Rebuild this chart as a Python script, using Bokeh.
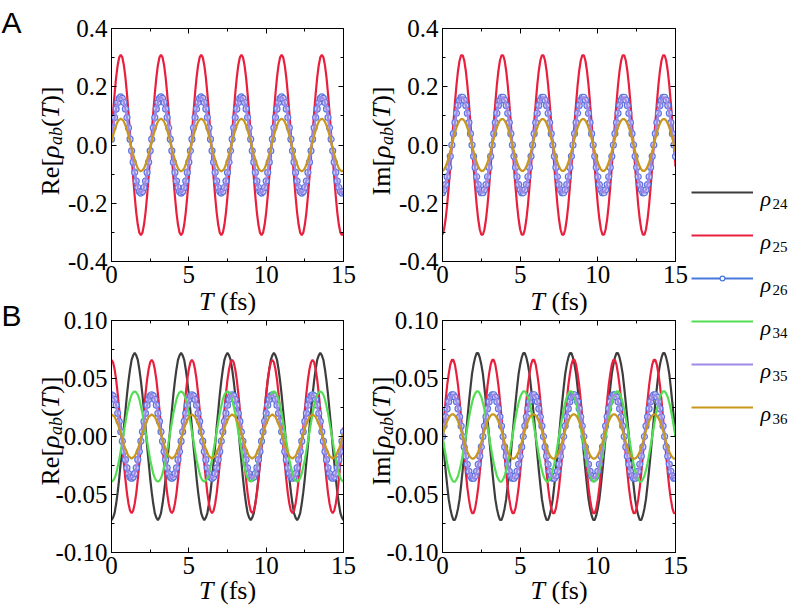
from bokeh.plotting import figure
from bokeh.models import Range1d, LinearAxis, FixedTicker, Label, Legend, LegendItem, ColumnDataSource, GridBox
from bokeh.layouts import row, column
from bokeh.embed import file_html
from bokeh.resources import INLINE
import math

# time grid (fs)
t_fs = [i / 10 for i in range(151)]

# ---------------- panel A ----------------
re_a_25 = [0.037, 0.110, 0.176, 0.232, 0.274, 0.301,
    0.310, 0.301, 0.274, 0.232, 0.176, 0.110, 0.037, -0.037, -0.110, -0.176, -0.232, -0.274, -0.301, -0.310, -0.301, -0.274, -0.232, -0.176, -0.110, -0.037, 0.037, 0.110, 0.176, 0.232, 0.274, 0.301,
    0.310, 0.301, 0.274, 0.232, 0.176, 0.110, 0.037, -0.037, -0.110, -0.176, -0.232, -0.274, -0.301, -0.310, -0.301, -0.274, -0.232, -0.176, -0.110, -0.037, 0.037, 0.110, 0.176, 0.232, 0.274, 0.301,
    0.310, 0.301, 0.274, 0.232, 0.176, 0.110, 0.037, -0.037, -0.110, -0.176, -0.232, -0.274, -0.301, -0.310, -0.301, -0.274, -0.232, -0.176, -0.110, -0.037, 0.037, 0.110, 0.176, 0.232, 0.274, 0.301,
    0.310, 0.301, 0.274, 0.232, 0.176, 0.110, 0.037, -0.037, -0.110, -0.176, -0.232, -0.274, -0.301, -0.310, -0.301, -0.274, -0.232, -0.176, -0.110, -0.037, 0.037, 0.110, 0.176, 0.232, 0.274, 0.301,
    0.310, 0.301, 0.274, 0.232, 0.176, 0.110, 0.037, -0.037, -0.110, -0.176, -0.232, -0.274, -0.301, -0.310, -0.301, -0.274, -0.232, -0.176, -0.110, -0.037, 0.037, 0.110, 0.176, 0.232, 0.274, 0.301,
    0.310, 0.301, 0.274, 0.232, 0.176, 0.110, 0.037, -0.037, -0.110, -0.176, -0.232, -0.274, -0.301, -0.310, -0.301]
im_a_25 = [-0.308, -0.290, -0.255, -0.206, -0.144, -0.074,
    0.000, 0.074, 0.144, 0.206, 0.255, 0.290, 0.308, 0.308, 0.290, 0.255, 0.206, 0.144, 0.074, 0.000, -0.074, -0.144, -0.206, -0.255, -0.290, -0.308, -0.308, -0.290, -0.255, -0.206, -0.144, -0.074,
    0.000, 0.074, 0.144, 0.206, 0.255, 0.290, 0.308, 0.308, 0.290, 0.255, 0.206, 0.144, 0.074, 0.000, -0.074, -0.144, -0.206, -0.255, -0.290, -0.308, -0.308, -0.290, -0.255, -0.206, -0.144, -0.074,
    0.000, 0.074, 0.144, 0.206, 0.255, 0.290, 0.308, 0.308, 0.290, 0.255, 0.206, 0.144, 0.074, 0.000, -0.074, -0.144, -0.206, -0.255, -0.290, -0.308, -0.308, -0.290, -0.255, -0.206, -0.144, -0.074,
    0.000, 0.074, 0.144, 0.206, 0.255, 0.290, 0.308, 0.308, 0.290, 0.255, 0.206, 0.144, 0.074, 0.000, -0.074, -0.144, -0.206, -0.255, -0.290, -0.308, -0.308, -0.290, -0.255, -0.206, -0.144, -0.074,
    0.000, 0.074, 0.144, 0.206, 0.255, 0.290, 0.308, 0.308, 0.290, 0.255, 0.206, 0.144, 0.074, 0.000, -0.074, -0.144, -0.206, -0.255, -0.290, -0.308, -0.308, -0.290, -0.255, -0.206, -0.144, -0.074,
    0.000, 0.074, 0.144, 0.206, 0.255, 0.290, 0.308, 0.308, 0.290, 0.255, 0.206, 0.144, 0.074, 0.000, -0.074]
re_a_26 = [0.020, 0.059, 0.094, 0.124, 0.146, 0.160,
    0.165, 0.160, 0.146, 0.124, 0.094, 0.059, 0.020, -0.020, -0.059, -0.094, -0.124, -0.146, -0.160, -0.165, -0.160, -0.146, -0.124, -0.094, -0.059, -0.020, 0.020, 0.059, 0.094, 0.124, 0.146, 0.160,
    0.165, 0.160, 0.146, 0.124, 0.094, 0.059, 0.020, -0.020, -0.059, -0.094, -0.124, -0.146, -0.160, -0.165, -0.160, -0.146, -0.124, -0.094, -0.059, -0.020, 0.020, 0.059, 0.094, 0.124, 0.146, 0.160,
    0.165, 0.160, 0.146, 0.124, 0.094, 0.059, 0.020, -0.020, -0.059, -0.094, -0.124, -0.146, -0.160, -0.165, -0.160, -0.146, -0.124, -0.094, -0.059, -0.020, 0.020, 0.059, 0.094, 0.124, 0.146, 0.160,
    0.165, 0.160, 0.146, 0.124, 0.094, 0.059, 0.020, -0.020, -0.059, -0.094, -0.124, -0.146, -0.160, -0.165, -0.160, -0.146, -0.124, -0.094, -0.059, -0.020, 0.020, 0.059, 0.094, 0.124, 0.146, 0.160,
    0.165, 0.160, 0.146, 0.124, 0.094, 0.059, 0.020, -0.020, -0.059, -0.094, -0.124, -0.146, -0.160, -0.165, -0.160, -0.146, -0.124, -0.094, -0.059, -0.020, 0.020, 0.059, 0.094, 0.124, 0.146, 0.160,
    0.165, 0.160, 0.146, 0.124, 0.094, 0.059, 0.020, -0.020, -0.059, -0.094, -0.124, -0.146, -0.160, -0.165, -0.160]
im_a_26 = [-0.164, -0.154, -0.136, -0.109, -0.077, -0.039,
    0.000, 0.039, 0.077, 0.109, 0.136, 0.154, 0.164, 0.164, 0.154, 0.136, 0.109, 0.077, 0.039, 0.000, -0.039, -0.077, -0.109, -0.136, -0.154, -0.164, -0.164, -0.154, -0.136, -0.109, -0.077, -0.039,
    0.000, 0.039, 0.077, 0.109, 0.136, 0.154, 0.164, 0.164, 0.154, 0.136, 0.109, 0.077, 0.039, 0.000, -0.039, -0.077, -0.109, -0.136, -0.154, -0.164, -0.164, -0.154, -0.136, -0.109, -0.077, -0.039,
    0.000, 0.039, 0.077, 0.109, 0.136, 0.154, 0.164, 0.164, 0.154, 0.136, 0.109, 0.077, 0.039, 0.000, -0.039, -0.077, -0.109, -0.136, -0.154, -0.164, -0.164, -0.154, -0.136, -0.109, -0.077, -0.039,
    0.000, 0.039, 0.077, 0.109, 0.136, 0.154, 0.164, 0.164, 0.154, 0.136, 0.109, 0.077, 0.039, 0.000, -0.039, -0.077, -0.109, -0.136, -0.154, -0.164, -0.164, -0.154, -0.136, -0.109, -0.077, -0.039,
    0.000, 0.039, 0.077, 0.109, 0.136, 0.154, 0.164, 0.164, 0.154, 0.136, 0.109, 0.077, 0.039, 0.000, -0.039, -0.077, -0.109, -0.136, -0.154, -0.164, -0.164, -0.154, -0.136, -0.109, -0.077, -0.039,
    0.000, 0.039, 0.077, 0.109, 0.136, 0.154, 0.164, 0.164, 0.154, 0.136, 0.109, 0.077, 0.039, 0.000, -0.039]
re_a_36 = [0.011, 0.032, 0.051, 0.067, 0.080, 0.087,
    0.090, 0.087, 0.080, 0.067, 0.051, 0.032, 0.011, -0.011, -0.032, -0.051, -0.067, -0.080, -0.087, -0.090, -0.087, -0.080, -0.067, -0.051, -0.032, -0.011, 0.011, 0.032, 0.051, 0.067, 0.080, 0.087,
    0.090, 0.087, 0.080, 0.067, 0.051, 0.032, 0.011, -0.011, -0.032, -0.051, -0.067, -0.080, -0.087, -0.090, -0.087, -0.080, -0.067, -0.051, -0.032, -0.011, 0.011, 0.032, 0.051, 0.067, 0.080, 0.087,
    0.090, 0.087, 0.080, 0.067, 0.051, 0.032, 0.011, -0.011, -0.032, -0.051, -0.067, -0.080, -0.087, -0.090, -0.087, -0.080, -0.067, -0.051, -0.032, -0.011, 0.011, 0.032, 0.051, 0.067, 0.080, 0.087,
    0.090, 0.087, 0.080, 0.067, 0.051, 0.032, 0.011, -0.011, -0.032, -0.051, -0.067, -0.080, -0.087, -0.090, -0.087, -0.080, -0.067, -0.051, -0.032, -0.011, 0.011, 0.032, 0.051, 0.067, 0.080, 0.087,
    0.090, 0.087, 0.080, 0.067, 0.051, 0.032, 0.011, -0.011, -0.032, -0.051, -0.067, -0.080, -0.087, -0.090, -0.087, -0.080, -0.067, -0.051, -0.032, -0.011, 0.011, 0.032, 0.051, 0.067, 0.080, 0.087,
    0.090, 0.087, 0.080, 0.067, 0.051, 0.032, 0.011, -0.011, -0.032, -0.051, -0.067, -0.080, -0.087, -0.090, -0.087]
im_a_36 = [-0.089, -0.084, -0.074, -0.060, -0.042, -0.022,
    0.000, 0.022, 0.042, 0.060, 0.074, 0.084, 0.089, 0.089, 0.084, 0.074, 0.060, 0.042, 0.022, 0.000, -0.022, -0.042, -0.060, -0.074, -0.084, -0.089, -0.089, -0.084, -0.074, -0.060, -0.042, -0.022,
    0.000, 0.022, 0.042, 0.060, 0.074, 0.084, 0.089, 0.089, 0.084, 0.074, 0.060, 0.042, 0.022, 0.000, -0.022, -0.042, -0.060, -0.074, -0.084, -0.089, -0.089, -0.084, -0.074, -0.060, -0.042, -0.022,
    0.000, 0.022, 0.042, 0.060, 0.074, 0.084, 0.089, 0.089, 0.084, 0.074, 0.060, 0.042, 0.022, 0.000, -0.022, -0.042, -0.060, -0.074, -0.084, -0.089, -0.089, -0.084, -0.074, -0.060, -0.042, -0.022,
    0.000, 0.022, 0.042, 0.060, 0.074, 0.084, 0.089, 0.089, 0.084, 0.074, 0.060, 0.042, 0.022, 0.000, -0.022, -0.042, -0.060, -0.074, -0.084, -0.089, -0.089, -0.084, -0.074, -0.060, -0.042, -0.022,
    0.000, 0.022, 0.042, 0.060, 0.074, 0.084, 0.089, 0.089, 0.084, 0.074, 0.060, 0.042, 0.022, 0.000, -0.022, -0.042, -0.060, -0.074, -0.084, -0.089, -0.089, -0.084, -0.074, -0.060, -0.042, -0.022,
    0.000, 0.022, 0.042, 0.060, 0.074, 0.084, 0.089, 0.089, 0.084, 0.074, 0.060, 0.042, 0.022, 0.000, -0.022]
# rho35 coincides with rho26 in the picture
re_a_35 = list(re_a_26)
im_a_35 = list(im_a_26)

# ---------------- panel B ----------------
re_b_24 = [
    -0.072, -0.070, -0.066, -0.058, -0.048, -0.036, -0.022, -0.008, 0.008, 0.022, 0.036, 0.048, 0.058, 0.066, 0.070, 0.072, 0.070, 0.066, 0.058, 0.048, 0.036, 0.022, 0.008, -0.008, -0.022, -0.036, -0.048, -0.058, -0.066, -0.070,
    -0.072, -0.070, -0.066, -0.058, -0.048, -0.036, -0.022, -0.008, 0.008, 0.022, 0.036, 0.048, 0.058, 0.066, 0.070, 0.072, 0.070, 0.066, 0.058, 0.048, 0.036, 0.022, 0.008, -0.008, -0.022, -0.036, -0.048, -0.058, -0.066, -0.070,
    -0.072, -0.070, -0.066, -0.058, -0.048, -0.036, -0.022, -0.008, 0.008, 0.022, 0.036, 0.048, 0.058, 0.066, 0.070, 0.072, 0.070, 0.066, 0.058, 0.048, 0.036, 0.022, 0.008, -0.008, -0.022, -0.036, -0.048, -0.058, -0.066, -0.070,
    -0.072, -0.070, -0.066, -0.058, -0.048, -0.036, -0.022, -0.008, 0.008, 0.022, 0.036, 0.048, 0.058, 0.066, 0.070, 0.072, 0.070, 0.066, 0.058, 0.048, 0.036, 0.022, 0.008, -0.008, -0.022, -0.036, -0.048, -0.058, -0.066, -0.070,
    -0.072, -0.070, -0.066, -0.058, -0.048, -0.036, -0.022, -0.008, 0.008, 0.022, 0.036, 0.048, 0.058, 0.066, 0.070, 0.072, 0.070, 0.066, 0.058, 0.048, 0.036, 0.022, 0.008, -0.008, -0.022, -0.036, -0.048, -0.058, -0.066, -0.070,
    -0.072]
im_b_24 = [
    0.000, -0.015, -0.029, -0.042, -0.054, -0.062, -0.068, -0.072, -0.072, -0.068, -0.062, -0.054, -0.042, -0.029, -0.015, 0.000, 0.015, 0.029, 0.042, 0.054, 0.062, 0.068, 0.072, 0.072, 0.068, 0.062, 0.054, 0.042, 0.029, 0.015,
    0.000, -0.015, -0.029, -0.042, -0.054, -0.062, -0.068, -0.072, -0.072, -0.068, -0.062, -0.054, -0.042, -0.029, -0.015, 0.000, 0.015, 0.029, 0.042, 0.054, 0.062, 0.068, 0.072, 0.072, 0.068, 0.062, 0.054, 0.042, 0.029, 0.015,
    0.000, -0.015, -0.029, -0.042, -0.054, -0.062, -0.068, -0.072, -0.072, -0.068, -0.062, -0.054, -0.042, -0.029, -0.015, 0.000, 0.015, 0.029, 0.042, 0.054, 0.062, 0.068, 0.072, 0.072, 0.068, 0.062, 0.054, 0.042, 0.029, 0.015,
    0.000, -0.015, -0.029, -0.042, -0.054, -0.062, -0.068, -0.072, -0.072, -0.068, -0.062, -0.054, -0.042, -0.029, -0.015, 0.000, 0.015, 0.029, 0.042, 0.054, 0.062, 0.068, 0.072, 0.072, 0.068, 0.062, 0.054, 0.042, 0.029, 0.015,
    0.000, -0.015, -0.029, -0.042, -0.054, -0.062, -0.068, -0.072, -0.072, -0.068, -0.062, -0.054, -0.042, -0.029, -0.015, 0.000, 0.015, 0.029, 0.042, 0.054, 0.062, 0.068, 0.072, 0.072, 0.068, 0.062, 0.054, 0.042, 0.029, 0.015,
    0.000]
re_b_25 = [
    0.066, 0.064, 0.058, 0.049, 0.037, 0.023, 0.008, -0.008, -0.023, -0.037, -0.049, -0.058, -0.064, -0.066, -0.064, -0.058, -0.049, -0.037, -0.023, -0.008, 0.008, 0.023, 0.037, 0.049, 0.058, 0.064,
    0.066, 0.064, 0.058, 0.049, 0.037, 0.023, 0.008, -0.008, -0.023, -0.037, -0.049, -0.058, -0.064, -0.066, -0.064, -0.058, -0.049, -0.037, -0.023, -0.008, 0.008, 0.023, 0.037, 0.049, 0.058, 0.064,
    0.066, 0.064, 0.058, 0.049, 0.037, 0.023, 0.008, -0.008, -0.023, -0.037, -0.049, -0.058, -0.064, -0.066, -0.064, -0.058, -0.049, -0.037, -0.023, -0.008, 0.008, 0.023, 0.037, 0.049, 0.058, 0.064,
    0.066, 0.064, 0.058, 0.049, 0.037, 0.023, 0.008, -0.008, -0.023, -0.037, -0.049, -0.058, -0.064, -0.066, -0.064, -0.058, -0.049, -0.037, -0.023, -0.008, 0.008, 0.023, 0.037, 0.049, 0.058, 0.064,
    0.066, 0.064, 0.058, 0.049, 0.037, 0.023, 0.008, -0.008, -0.023, -0.037, -0.049, -0.058, -0.064, -0.066, -0.064, -0.058, -0.049, -0.037, -0.023, -0.008, 0.008, 0.023, 0.037, 0.049, 0.058, 0.064,
    0.066, 0.064, 0.058, 0.049, 0.037, 0.023, 0.008, -0.008, -0.023, -0.037, -0.049, -0.058, -0.064, -0.066, -0.064, -0.058, -0.049, -0.037, -0.023, -0.008, 0.008]
im_b_25 = [
    0.000, 0.016, 0.031, 0.044, 0.054, 0.062, 0.066, 0.066, 0.062, 0.054, 0.044, 0.031, 0.016, 0.000, -0.016, -0.031, -0.044, -0.054, -0.062, -0.066, -0.066, -0.062, -0.054, -0.044, -0.031, -0.016,
    0.000, 0.016, 0.031, 0.044, 0.054, 0.062, 0.066, 0.066, 0.062, 0.054, 0.044, 0.031, 0.016, 0.000, -0.016, -0.031, -0.044, -0.054, -0.062, -0.066, -0.066, -0.062, -0.054, -0.044, -0.031, -0.016,
    0.000, 0.016, 0.031, 0.044, 0.054, 0.062, 0.066, 0.066, 0.062, 0.054, 0.044, 0.031, 0.016, 0.000, -0.016, -0.031, -0.044, -0.054, -0.062, -0.066, -0.066, -0.062, -0.054, -0.044, -0.031, -0.016,
    0.000, 0.016, 0.031, 0.044, 0.054, 0.062, 0.066, 0.066, 0.062, 0.054, 0.044, 0.031, 0.016, 0.000, -0.016, -0.031, -0.044, -0.054, -0.062, -0.066, -0.066, -0.062, -0.054, -0.044, -0.031, -0.016,
    0.000, 0.016, 0.031, 0.044, 0.054, 0.062, 0.066, 0.066, 0.062, 0.054, 0.044, 0.031, 0.016, 0.000, -0.016, -0.031, -0.044, -0.054, -0.062, -0.066, -0.066, -0.062, -0.054, -0.044, -0.031, -0.016,
    0.000, 0.016, 0.031, 0.044, 0.054, 0.062, 0.066, 0.066, 0.062, 0.054, 0.044, 0.031, 0.016, 0.000, -0.016, -0.031, -0.044, -0.054, -0.062, -0.066, -0.066]
re_b_26 = [
    0.036, 0.035, 0.032, 0.027, 0.020, 0.013, 0.004, -0.004, -0.013, -0.020, -0.027, -0.032, -0.035, -0.036, -0.035, -0.032, -0.027, -0.020, -0.013, -0.004, 0.004, 0.013, 0.020, 0.027, 0.032, 0.035,
    0.036, 0.035, 0.032, 0.027, 0.020, 0.013, 0.004, -0.004, -0.013, -0.020, -0.027, -0.032, -0.035, -0.036, -0.035, -0.032, -0.027, -0.020, -0.013, -0.004, 0.004, 0.013, 0.020, 0.027, 0.032, 0.035,
    0.036, 0.035, 0.032, 0.027, 0.020, 0.013, 0.004, -0.004, -0.013, -0.020, -0.027, -0.032, -0.035, -0.036, -0.035, -0.032, -0.027, -0.020, -0.013, -0.004, 0.004, 0.013, 0.020, 0.027, 0.032, 0.035,
    0.036, 0.035, 0.032, 0.027, 0.020, 0.013, 0.004, -0.004, -0.013, -0.020, -0.027, -0.032, -0.035, -0.036, -0.035, -0.032, -0.027, -0.020, -0.013, -0.004, 0.004, 0.013, 0.020, 0.027, 0.032, 0.035,
    0.036, 0.035, 0.032, 0.027, 0.020, 0.013, 0.004, -0.004, -0.013, -0.020, -0.027, -0.032, -0.035, -0.036, -0.035, -0.032, -0.027, -0.020, -0.013, -0.004, 0.004, 0.013, 0.020, 0.027, 0.032, 0.035,
    0.036, 0.035, 0.032, 0.027, 0.020, 0.013, 0.004, -0.004, -0.013, -0.020, -0.027, -0.032, -0.035, -0.036, -0.035, -0.032, -0.027, -0.020, -0.013, -0.004, 0.004]
im_b_26 = [
    0.000, 0.009, 0.017, 0.024, 0.030, 0.034, 0.036, 0.036, 0.034, 0.030, 0.024, 0.017, 0.009, 0.000, -0.009, -0.017, -0.024, -0.030, -0.034, -0.036, -0.036, -0.034, -0.030, -0.024, -0.017, -0.009,
    0.000, 0.009, 0.017, 0.024, 0.030, 0.034, 0.036, 0.036, 0.034, 0.030, 0.024, 0.017, 0.009, 0.000, -0.009, -0.017, -0.024, -0.030, -0.034, -0.036, -0.036, -0.034, -0.030, -0.024, -0.017, -0.009,
    0.000, 0.009, 0.017, 0.024, 0.030, 0.034, 0.036, 0.036, 0.034, 0.030, 0.024, 0.017, 0.009, 0.000, -0.009, -0.017, -0.024, -0.030, -0.034, -0.036, -0.036, -0.034, -0.030, -0.024, -0.017, -0.009,
    0.000, 0.009, 0.017, 0.024, 0.030, 0.034, 0.036, 0.036, 0.034, 0.030, 0.024, 0.017, 0.009, 0.000, -0.009, -0.017, -0.024, -0.030, -0.034, -0.036, -0.036, -0.034, -0.030, -0.024, -0.017, -0.009,
    0.000, 0.009, 0.017, 0.024, 0.030, 0.034, 0.036, 0.036, 0.034, 0.030, 0.024, 0.017, 0.009, 0.000, -0.009, -0.017, -0.024, -0.030, -0.034, -0.036, -0.036, -0.034, -0.030, -0.024, -0.017, -0.009,
    0.000, 0.009, 0.017, 0.024, 0.030, 0.034, 0.036, 0.036, 0.034, 0.030, 0.024, 0.017, 0.009, 0.000, -0.009, -0.017, -0.024, -0.030, -0.034, -0.036, -0.036]
re_b_34 = [
    -0.039, -0.038, -0.036, -0.032, -0.026, -0.020, -0.012, -0.004, 0.004, 0.012, 0.020, 0.026, 0.032, 0.036, 0.038, 0.039, 0.038, 0.036, 0.032, 0.026, 0.020, 0.012, 0.004, -0.004, -0.012, -0.020, -0.026, -0.032, -0.036, -0.038,
    -0.039, -0.038, -0.036, -0.032, -0.026, -0.020, -0.012, -0.004, 0.004, 0.012, 0.020, 0.026, 0.032, 0.036, 0.038, 0.039, 0.038, 0.036, 0.032, 0.026, 0.020, 0.012, 0.004, -0.004, -0.012, -0.020, -0.026, -0.032, -0.036, -0.038,
    -0.039, -0.038, -0.036, -0.032, -0.026, -0.020, -0.012, -0.004, 0.004, 0.012, 0.020, 0.026, 0.032, 0.036, 0.038, 0.039, 0.038, 0.036, 0.032, 0.026, 0.020, 0.012, 0.004, -0.004, -0.012, -0.020, -0.026, -0.032, -0.036, -0.038,
    -0.039, -0.038, -0.036, -0.032, -0.026, -0.020, -0.012, -0.004, 0.004, 0.012, 0.020, 0.026, 0.032, 0.036, 0.038, 0.039, 0.038, 0.036, 0.032, 0.026, 0.020, 0.012, 0.004, -0.004, -0.012, -0.020, -0.026, -0.032, -0.036, -0.038,
    -0.039, -0.038, -0.036, -0.032, -0.026, -0.020, -0.012, -0.004, 0.004, 0.012, 0.020, 0.026, 0.032, 0.036, 0.038, 0.039, 0.038, 0.036, 0.032, 0.026, 0.020, 0.012, 0.004, -0.004, -0.012, -0.020, -0.026, -0.032, -0.036, -0.038,
    -0.039]
im_b_34 = [
    0.000, -0.008, -0.016, -0.023, -0.029, -0.034, -0.037, -0.039, -0.039, -0.037, -0.034, -0.029, -0.023, -0.016, -0.008, 0.000, 0.008, 0.016, 0.023, 0.029, 0.034, 0.037, 0.039, 0.039, 0.037, 0.034, 0.029, 0.023, 0.016, 0.008,
    0.000, -0.008, -0.016, -0.023, -0.029, -0.034, -0.037, -0.039, -0.039, -0.037, -0.034, -0.029, -0.023, -0.016, -0.008, 0.000, 0.008, 0.016, 0.023, 0.029, 0.034, 0.037, 0.039, 0.039, 0.037, 0.034, 0.029, 0.023, 0.016, 0.008,
    0.000, -0.008, -0.016, -0.023, -0.029, -0.034, -0.037, -0.039, -0.039, -0.037, -0.034, -0.029, -0.023, -0.016, -0.008, 0.000, 0.008, 0.016, 0.023, 0.029, 0.034, 0.037, 0.039, 0.039, 0.037, 0.034, 0.029, 0.023, 0.016, 0.008,
    0.000, -0.008, -0.016, -0.023, -0.029, -0.034, -0.037, -0.039, -0.039, -0.037, -0.034, -0.029, -0.023, -0.016, -0.008, 0.000, 0.008, 0.016, 0.023, 0.029, 0.034, 0.037, 0.039, 0.039, 0.037, 0.034, 0.029, 0.023, 0.016, 0.008,
    0.000, -0.008, -0.016, -0.023, -0.029, -0.034, -0.037, -0.039, -0.039, -0.037, -0.034, -0.029, -0.023, -0.016, -0.008, 0.000, 0.008, 0.016, 0.023, 0.029, 0.034, 0.037, 0.039, 0.039, 0.037, 0.034, 0.029, 0.023, 0.016, 0.008,
    0.000]
re_b_36 = [
    0.019, 0.018, 0.017, 0.014, 0.011, 0.007, 0.002, -0.002, -0.007, -0.011, -0.014, -0.017, -0.018, -0.019, -0.018, -0.017, -0.014, -0.011, -0.007, -0.002, 0.002, 0.007, 0.011, 0.014, 0.017, 0.018,
    0.019, 0.018, 0.017, 0.014, 0.011, 0.007, 0.002, -0.002, -0.007, -0.011, -0.014, -0.017, -0.018, -0.019, -0.018, -0.017, -0.014, -0.011, -0.007, -0.002, 0.002, 0.007, 0.011, 0.014, 0.017, 0.018,
    0.019, 0.018, 0.017, 0.014, 0.011, 0.007, 0.002, -0.002, -0.007, -0.011, -0.014, -0.017, -0.018, -0.019, -0.018, -0.017, -0.014, -0.011, -0.007, -0.002, 0.002, 0.007, 0.011, 0.014, 0.017, 0.018,
    0.019, 0.018, 0.017, 0.014, 0.011, 0.007, 0.002, -0.002, -0.007, -0.011, -0.014, -0.017, -0.018, -0.019, -0.018, -0.017, -0.014, -0.011, -0.007, -0.002, 0.002, 0.007, 0.011, 0.014, 0.017, 0.018,
    0.019, 0.018, 0.017, 0.014, 0.011, 0.007, 0.002, -0.002, -0.007, -0.011, -0.014, -0.017, -0.018, -0.019, -0.018, -0.017, -0.014, -0.011, -0.007, -0.002, 0.002, 0.007, 0.011, 0.014, 0.017, 0.018,
    0.019, 0.018, 0.017, 0.014, 0.011, 0.007, 0.002, -0.002, -0.007, -0.011, -0.014, -0.017, -0.018, -0.019, -0.018, -0.017, -0.014, -0.011, -0.007, -0.002, 0.002]
im_b_36 = [
    0.000, 0.005, 0.009, 0.013, 0.016, 0.018, 0.019, 0.019, 0.018, 0.016, 0.013, 0.009, 0.005, 0.000, -0.005, -0.009, -0.013, -0.016, -0.018, -0.019, -0.019, -0.018, -0.016, -0.013, -0.009, -0.005,
    0.000, 0.005, 0.009, 0.013, 0.016, 0.018, 0.019, 0.019, 0.018, 0.016, 0.013, 0.009, 0.005, 0.000, -0.005, -0.009, -0.013, -0.016, -0.018, -0.019, -0.019, -0.018, -0.016, -0.013, -0.009, -0.005,
    0.000, 0.005, 0.009, 0.013, 0.016, 0.018, 0.019, 0.019, 0.018, 0.016, 0.013, 0.009, 0.005, 0.000, -0.005, -0.009, -0.013, -0.016, -0.018, -0.019, -0.019, -0.018, -0.016, -0.013, -0.009, -0.005,
    0.000, 0.005, 0.009, 0.013, 0.016, 0.018, 0.019, 0.019, 0.018, 0.016, 0.013, 0.009, 0.005, 0.000, -0.005, -0.009, -0.013, -0.016, -0.018, -0.019, -0.019, -0.018, -0.016, -0.013, -0.009, -0.005,
    0.000, 0.005, 0.009, 0.013, 0.016, 0.018, 0.019, 0.019, 0.018, 0.016, 0.013, 0.009, 0.005, 0.000, -0.005, -0.009, -0.013, -0.016, -0.018, -0.019, -0.019, -0.018, -0.016, -0.013, -0.009, -0.005,
    0.000, 0.005, 0.009, 0.013, 0.016, 0.018, 0.019, 0.019, 0.018, 0.016, 0.013, 0.009, 0.005, 0.000, -0.005, -0.009, -0.013, -0.016, -0.018, -0.019, -0.019]
re_b_35 = list(re_b_26)
im_b_35 = list(im_b_26)

# ---------------- ticks / labels / legend ----------------
x_ticks = [0, 5, 10, 15]
x_tick_labels = ["0", "5", "10", "15"]
y_ticks_a = [-0.4, -0.2, 0.0, 0.2, 0.4]
y_tick_labels_a = ["-0.4", "-0.2", "0.0", "0.2", "0.4"]
y_ticks_b = [-0.10, -0.05, 0.0, 0.05, 0.10]
y_tick_labels_b = ["-0.10", "-0.05", "0.00", "0.05", "0.10"]
series_keys = ["24", "25", "26", "34", "35", "36"]   # legend: rho with these subscripts
colors = {"24": "#3d3d3d", "25": "#e8203e", "26": "#4a78dc",
          "34": "#52de52", "35": "#a189e8", "36": "#c9971c"}
marker_line = "#5b76e2"
marker_fill = "#d9d6f7"

SERIF = "Liberation Serif"
SANS = "Liberation Sans"
W, H = 793, 608


def minor_of(ticks):
    return [(a + b) / 2 for a, b in zip(ticks[:-1], ticks[1:])]


def style_axis(ax, ticks, labels, show):
    ax.ticker = FixedTicker(ticks=ticks, minor_ticks=minor_of(ticks))
    ax.major_tick_in = 5
    ax.major_tick_out = 0
    ax.minor_tick_in = 3
    ax.minor_tick_out = 0
    ax.axis_line_color = "black"
    ax.major_tick_line_color = "black"
    ax.minor_tick_line_color = "black"
    ax.axis_line_width = 1
    if show:
        ax.major_label_overrides = {t: l for t, l in zip(ticks, labels)}
        ax.major_label_text_font = SERIF
        ax.major_label_text_font_size = "25px"
        ax.major_label_text_color = "black"
        ax.major_label_standoff = 4
    else:
        ax.major_label_text_font_size = "0px"
        ax.major_label_text_alpha = 0
        ax.major_label_standoff = 0


def make_panel(width, height, mbl, mbr, mbt, mbb, ylim, yticks, ylabels, series):
    p = figure(width=width, height=height, output_backend="svg", toolbar_location=None,
               x_range=Range1d(x_ticks[0], x_ticks[-1]), y_range=Range1d(ylim[0], ylim[1]),
               min_border_left=mbl, min_border_right=mbr, min_border_top=mbt,
               min_border_bottom=mbb)
    p.grid.visible = False
    p.outline_line_color = "black"
    p.outline_line_width = 1
    p.background_fill_color = "white"
    p.border_fill_color = "white"
    style_axis(p.xaxis[0], x_ticks, x_tick_labels, True)
    style_axis(p.yaxis[0], yticks, ylabels, True)
    top = LinearAxis()
    style_axis(top, x_ticks, x_tick_labels, False)
    p.add_layout(top, "above")
    right = LinearAxis()
    style_axis(right, yticks, ylabels, False)
    p.add_layout(right, "right")
    for key, vals in series:
        src = ColumnDataSource(dict(t=t_fs[:len(vals)], v=vals[:len(t_fs)]))
        p.line("t", "v", source=src, line_color=colors[key], line_width=2.2)
        if key == "26":
            p.scatter("t", "v", source=src, size=6, line_color=marker_line,
                      fill_color=marker_fill, line_width=1.2)
    return p


ser_a_re = [("25", re_a_25), ("26", re_a_26), ("35", re_a_35), ("36", re_a_36)]
ser_a_im = [("25", im_a_25), ("26", im_a_26), ("35", im_a_35), ("36", im_a_36)]
ser_b_re = [("24", re_b_24), ("25", re_b_25), ("26", re_b_26), ("34", re_b_34), ("35", re_b_35), ("36", re_b_36)]
ser_b_im = [("24", im_b_24), ("25", im_b_25), ("26", im_b_26), ("34", im_b_34), ("35", im_b_35), ("36", im_b_36)]

# frames: left x 111-343, right x 442-675; top y 28-261, bottom y 320-552
p_tl = make_panel(357, 308, 111, 14, 28, 47, (-0.4, 0.4), y_ticks_a, y_tick_labels_a, ser_a_re)
p_tr = make_panel(331, 308, 85, 13, 28, 47, (-0.4, 0.4), y_ticks_a, y_tick_labels_a, ser_a_im)
p_bl = make_panel(357, 300, 111, 14, 12, 56, (-0.1, 0.1), y_ticks_b, y_tick_labels_b, ser_b_re)
p_br = make_panel(331, 300, 85, 13, 12, 56, (-0.1, 0.1), y_ticks_b, y_tick_labels_b, ser_b_im)

# legend figure (its renderers carry the panel-B data but the range keeps them out of view)
p_leg = figure(width=105, height=608, output_backend="svg", toolbar_location=None,
               x_axis_type=None, y_axis_type=None, min_border=0,
               x_range=Range1d(0, 15), y_range=Range1d(5, 6))
p_leg.outline_line_color = None
p_leg.background_fill_color = "white"
p_leg.border_fill_color = "white"
leg_data = {"24": re_b_24, "25": re_b_25, "26": re_b_26, "34": re_b_34, "35": re_b_35, "36": re_b_36}
items = []
for key in series_keys:
    vals = leg_data[key]
    src = ColumnDataSource(dict(t=t_fs[:len(vals)], v=vals))
    rs = [p_leg.line("t", "v", source=src, line_color=colors[key], line_width=2.2)]
    if key == "26":
        rs.append(p_leg.scatter("t", "v", source=src, size=5, line_color=colors[key],
                                fill_color="white", line_width=1.2))
    items.append(LegendItem(label=" ", renderers=rs))
legend = Legend(items=items, location=(3, 185), orientation="vertical",
                border_line_color=None, background_fill_alpha=0,
                padding=0, margin=0, spacing=11,
                glyph_width=62, glyph_height=12, label_height=32, label_standoff=7,
                label_text_font=SERIF, label_text_font_size="20px")
p_leg.add_layout(legend)

# transparent text layer over the whole page (axis titles, legend texts, panel letters)
p_txt = figure(width=W, height=H, output_backend="svg", toolbar_location=None,
               x_axis_type=None, y_axis_type=None, min_border=0,
               x_range=Range1d(0, 1), y_range=Range1d(0, 1))
p_txt.outline_line_color = None
p_txt.background_fill_color = None
p_txt.border_fill_color = None


def tl(text, x, y_top, size, style="normal", font=SERIF, angle=0.0):
    p_txt.add_layout(Label(x=x, y=H - y_top, x_units="screen", y_units="screen", text=text,
                           text_font=font, text_font_size=f"{size}px", text_font_style=style,
                           text_color="black", text_align="left", text_baseline="alphabetic",
                           angle=angle))


def ylabel(prefix, xb, ystart):
    a = math.pi / 2
    tl(prefix + "[", xb, ystart, 26, angle=a)
    tl("ρ", xb, ystart - 37.5, 26, "italic", angle=a)
    tl("ab", xb + 5, ystart - 50.5, 18, "italic", angle=a)
    tl("(", xb, ystart - 68.5, 26, angle=a)
    tl("T", xb, ystart - 77.2, 26, "italic", angle=a)
    tl(")]", xb, ystart - 91.7, 26, angle=a)


def xlabel(xc, yb):
    x0 = xc - 28.5
    tl("T", x0, yb, 26, "italic")
    tl("(fs)", x0 + 21, yb, 26)


ylabel("Re", 50, 195)
ylabel("Im", 381, 195)
ylabel("Re", 50, 485)
ylabel("Im", 381, 485)
xlabel(227, 301)
xlabel(558.5, 301)
xlabel(227, 590)
xlabel(558.5, 590)
tl("A", 1, 22, 30, font=SANS)
tl("B", 1, 315, 30, font=SANS)

# legend texts: rho with subscript, set a little below each legend line
for i, key in enumerate(series_keys):
    line_y = 192 + 43 * i
    tl("ρ", 760, line_y + 6, 22, "italic")
    tl(key, 772, line_y + 11, 15)

panels = row(column(row(p_tl, p_tr), row(p_bl, p_br)), p_leg)
layout = GridBox(children=[(panels, 0, 0), (p_txt, 0, 0)], spacing=0)

open("out.html", "w").write(file_html(layout, INLINE))
